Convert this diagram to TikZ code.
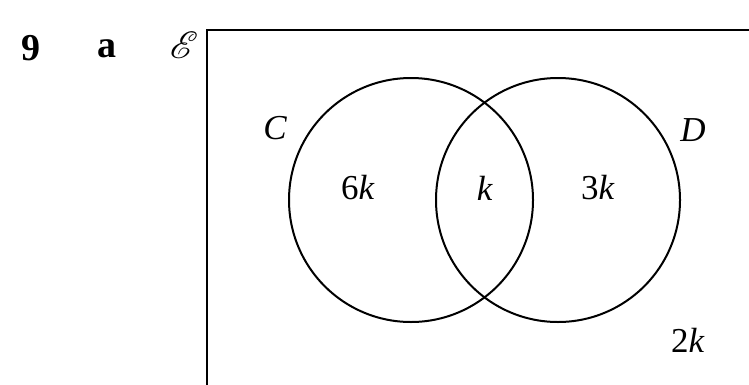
\documentclass[tikz,border=0pt]{standalone}
\usepackage{fontspec}
\setmainfont{Liberation Serif}
\usepackage{mathrsfs}
\usetikzlibrary{positioning}
\tikzset{
	setnode/.style={
			shape=circle,
			draw=black,
			line width=2pt,
			minimum size=244pt,
			inner sep=0pt
		},
	countnode/.style={
			font=\fontsize{35}{40}\selectfont,
			inner sep=0pt
		},
	labelnode/.style={
			font=\fontsize{35}{40}\selectfont\itshape,
			inner sep=0pt
		},
	headnode/.style={
			font=\fontsize{38}{44}\selectfont\bfseries,
			inner sep=0pt
		}
}

\begin{document}
\begin{tikzpicture}[x=1pt, y=1pt]
				\clip (0,0) rectangle (749,384);
				\useasboundingbox (0,0) rectangle (749,384);

				\node[headnode] (num) at (31,336) {9};
				\node[headnode] (part) at (107,335) {a};
				\node[inner sep=0pt] (univ) at (184,339) {\scalebox{3.8}{$\mathscr{E}$}};

				\draw[line width=2pt] (207,354) rectangle (770,-20);

				\node[setnode] (C) at (411,184) {};
				\node[setnode] (D) at (558,184) {};

				\node[labelnode] (Clabel) at (275,256) {C};
				\node[labelnode] (Dlabel) at (693,254) {D};

				\node[countnode] (onlyC) at (358,196) {6\textit{k}};
				\node[countnode] (both) at (485,196) {\textit{k}};
				\node[countnode] (onlyD) at (598,196) {3\textit{k}};
				\node[countnode] (neither) at (688,44) {2\textit{k}};

			\end{tikzpicture}
\end{document}
